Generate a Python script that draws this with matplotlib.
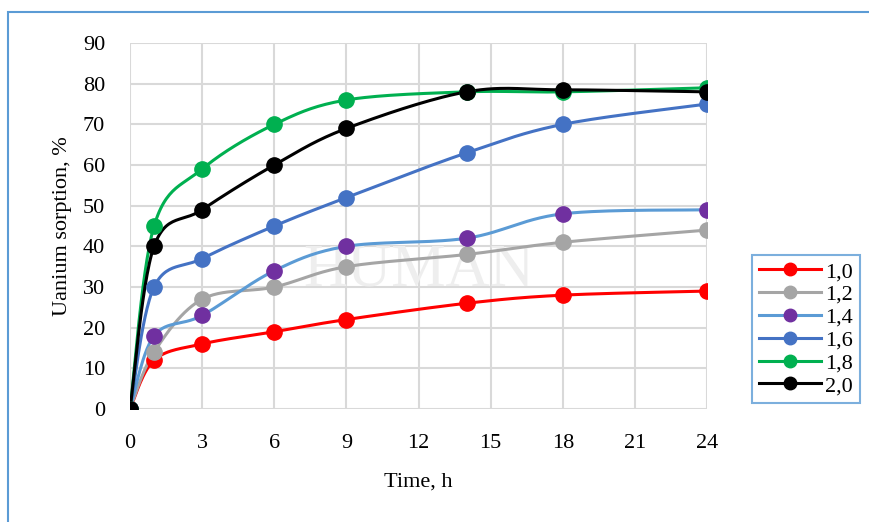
import numpy as np
import matplotlib
matplotlib.use("Agg")
import matplotlib.pyplot as plt
from matplotlib.patches import Rectangle

plt.rcParams['font.family'] = ['Liberation Serif', 'DejaVu Serif']

time_h = [0, 1, 3, 6, 9, 14, 18, 24]
labels = ["1,0", "1,2", "1,4", "1,6", "1,8", "2,0"]
s10 = [0, 12, 16, 19, 22, 26, 28, 29]
s12 = [0, 14, 27, 30, 35, 38, 41, 44]
s14 = [0, 18, 23, 34, 40, 42, 48, 49]
s16 = [0, 30, 37, 45, 52, 63, 70, 75]
s18 = [0, 45, 59, 70, 76, 78, 78, 79]
s20 = [0, 40, 49, 60, 69, 78, 78.5, 78]
series = [s10, s12, s14, s16, s18, s20]

line_colors = ['#ff0000', '#a5a5a5', '#5b9bd5', '#4472c4', '#00b050', '#000000']
marker_colors = ['#ff0000', '#a5a5a5', '#7030a0', '#4472c4', '#00b050', '#000000']


def smooth(x, y, n=30):
    # Excel-like smoothed line (Catmull-Rom style Bezier)
    x = np.asarray(x, float)
    y = np.asarray(y, float)
    px, py = [], []
    for i in range(len(x) - 1):
        i0 = max(i - 1, 0)
        i3 = min(i + 2, len(x) - 1)
        c1x = x[i] + (x[i + 1] - x[i0]) / 6
        c1y = y[i] + (y[i + 1] - y[i0]) / 6
        c2x = x[i + 1] - (x[i3] - x[i]) / 6
        c2y = y[i + 1] - (y[i3] - y[i]) / 6
        t = np.linspace(0, 1, n)
        bx = (1-t)**3*x[i] + 3*(1-t)**2*t*c1x + 3*(1-t)*t**2*c2x + t**3*x[i+1]
        by = (1-t)**3*y[i] + 3*(1-t)**2*t*c1y + 3*(1-t)*t**2*c2y + t**3*y[i+1]
        px.extend(bx)
        py.extend(by)
    return px, py


fig = plt.figure(figsize=(8.69, 5.22), dpi=100)
ax = fig.add_axes([0.1496, 0.2165, 0.664, 0.701])

fig.patches.append(Rectangle((8/869, -0.1), 1.2, 1 - 12/522 + 0.1,
                             transform=fig.transFigure, fill=False,
                             edgecolor='#5b9bd5', linewidth=1.5))

for ys, lab, lc, mc in zip(series, labels, line_colors, marker_colors):
    sx, sy = smooth(time_h, ys)
    ax.plot(sx, sy, color=lc, linewidth=2.2, zorder=3)
    ax.plot(time_h, ys, linestyle='none', marker='o', markersize=11,
            markerfacecolor=mc, markeredgecolor=mc, zorder=4)
    ax.plot([], [], color=lc, linewidth=2.2, marker='o', markersize=9,
            markerfacecolor=mc, markeredgecolor=mc, label=lab)

ax.set_xlim(0, 24)
ax.set_ylim(0, 90)
ax.set_xticks(range(0, 25, 3))
ax.set_yticks(range(0, 91, 10))
ax.grid(True, color='#d9d9d9', linewidth=1.5, zorder=0)
ax.set_axisbelow(True)
for sp in ax.spines.values():
    sp.set_visible(False)
ax.tick_params(length=0, labelsize=16)
ax.tick_params(axis='y', pad=18)
ax.tick_params(axis='x', pad=18)
ax.set_xlabel("Time, h", fontsize=16, labelpad=14)
ax.set_ylabel("Uanium sorption, %", fontsize=16, labelpad=8)

ax.text(12, 34, "HUMAN", fontsize=44, color='#eeeeee', ha='center',
        va='center', zorder=1)

leg = fig.legend(loc='upper left', bbox_to_anchor=(752/869, 1 - 255/522),
                 fontsize=16, frameon=True, fancybox=False,
                 handlelength=2.8, handletextpad=0.2, labelspacing=0.1,
                 borderpad=0.3, borderaxespad=0)
leg.get_frame().set_edgecolor('#5b9bd5')
leg.get_frame().set_linewidth(1.5)

fig.savefig("out.png", dpi=100)
